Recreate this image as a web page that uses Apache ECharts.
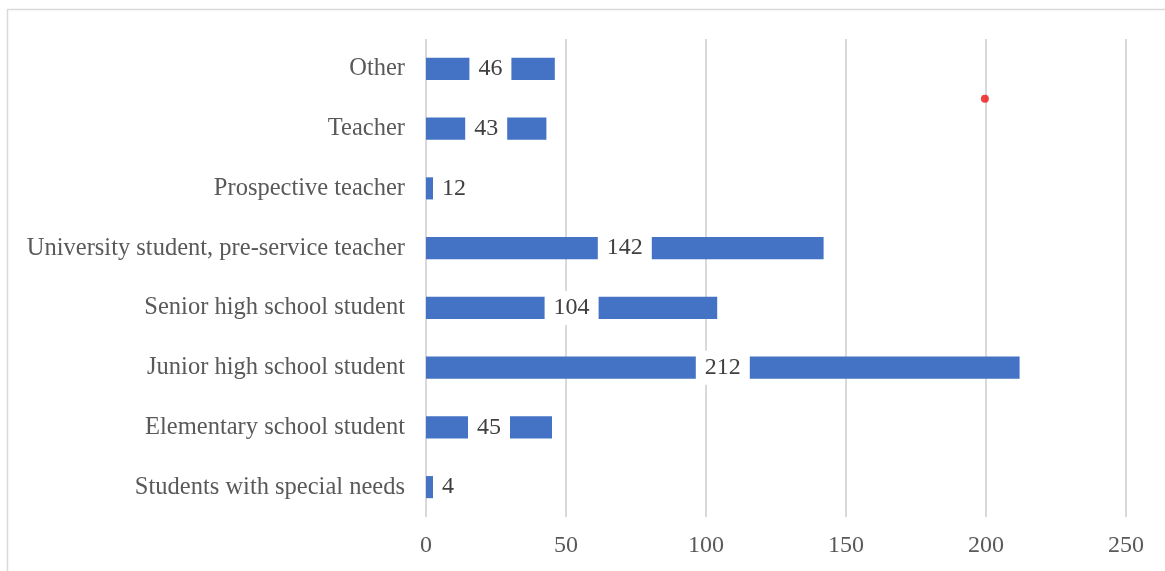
<!DOCTYPE html>
<html>
<head>
<meta charset="utf-8">
<script src="https://cdn.jsdelivr.net/npm/echarts@6/dist/echarts.min.js"></script>
<style>html,body{margin:0;padding:0;background:#fff;}#chart{width:1165px;height:571px;}</style>
</head>
<body>
<div id="chart"></div>
<script>
const categories = ["Students with special needs","Elementary school student","Junior high school student","Senior high school student","University student, pre-service teacher","Prospective teacher","Teacher","Other"];
// bar lengths as drawn in the picture
const barLengths = [2.5, 45, 212, 104, 142, 2.5, 43, 46];
// value labels as printed in the picture
const valueLabels = ["4", "45", "212", "104", "142", "12", "43", "46"];
const xTicks = [0, 50, 100, 150, 200, 250];
const dotPoint = [199.6, 6.5];

const FONT = '"Liberation Serif", "Times New Roman", serif';
const chart = echarts.init(document.getElementById('chart'));
const barData = barLengths.map((v, i) => {
  const small = v < 20;
  return {
    value: v,
    label: small ? {position: 'right', distance: 9, backgroundColor: 'transparent', padding: 0}
                 : {position: 'inside', backgroundColor: '#ffffff', padding: [4, 9]}
  };
});
chart.setOption({
  animation: false,
  backgroundColor: '#ffffff',
  graphic: [{
    type: 'rect', shape: {x: 7.5, y: 9.5, width: 1200, height: 600},
    style: {fill: 'none', stroke: '#d9d9d9', lineWidth: 1.5}, silent: true, z: -10
  }],
  grid: {left: 426, right: 39, top: 39, bottom: 54, containLabel: false},
  xAxis: [{
    type: 'value', min: 0, max: 250, interval: 50,
    axisLine: {show: false}, axisTick: {show: false},
    splitLine: {lineStyle: {color: '#d9d9d9', width: 2}},
    axisLabel: {color: '#595959', fontFamily: FONT, fontSize: 24, margin: 17,
      formatter: v => xTicks.includes(v) ? String(v) : ''}
  }],
  yAxis: [{
    type: 'category', data: categories,
    axisLine: {show: false}, axisTick: {show: false},
    axisLabel: {color: '#595959', fontFamily: FONT, fontSize: 24.5, margin: 21}
  }, {
    type: 'value', min: -0.5, max: 7.5, show: false
  }],
  series: [{
    type: 'bar', data: barData, barWidth: '37%', yAxisIndex: 0,
    itemStyle: {color: '#4472c4'},
    label: {show: true, color: '#404040', fontFamily: FONT, fontSize: 24, lineHeight: 26,
      formatter: p => valueLabels[p.dataIndex]}
  }, {
    type: 'scatter', yAxisIndex: 1, data: [dotPoint], symbolSize: 8,
    itemStyle: {color: '#ee1111'}, silent: true
  }]
});
</script>
</body>
</html>
